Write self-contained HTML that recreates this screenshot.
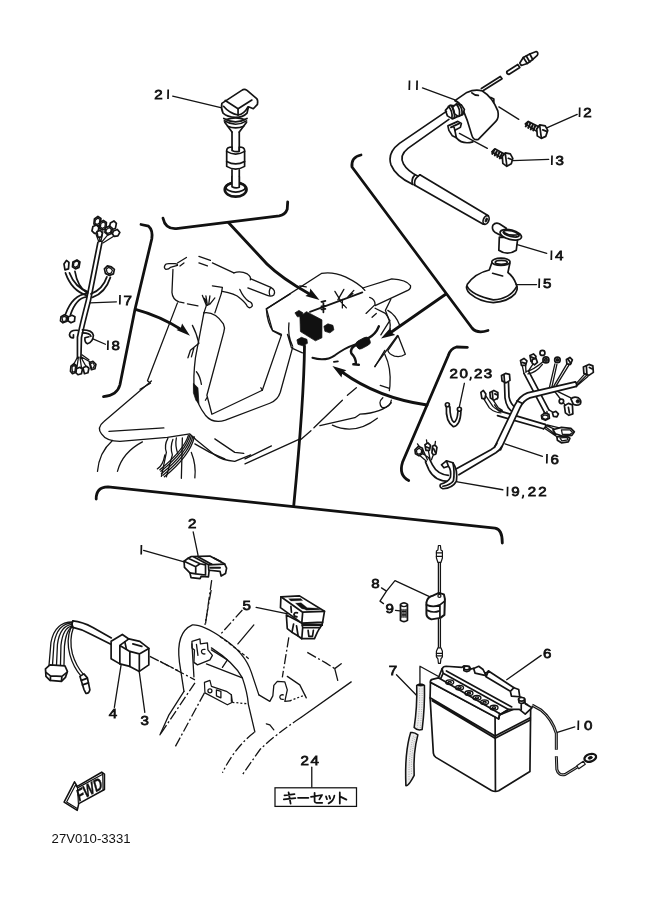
<!DOCTYPE html>
<html><head><meta charset="utf-8">
<style>
html,body{margin:0;padding:0;background:#fff;}
body{width:661px;height:913px;overflow:hidden;font-family:"Liberation Sans",sans-serif;}
svg{display:block;position:absolute;left:0;top:0;}
.l{fill:none;stroke:#141414;stroke-width:calc(6.8px*var(--s,1));stroke-linecap:round;stroke-linejoin:round;}
.t{fill:none;stroke:#141414;stroke-width:calc(5.2px*var(--s,1));stroke-linecap:round;stroke-linejoin:round;}
.b{fill:none;stroke:#111;stroke-width:calc(11.2px*var(--s,1));stroke-linecap:round;stroke-linejoin:round;}
.w{fill:#fff;stroke:#141414;stroke-width:calc(6.8px*var(--s,1));stroke-linecap:round;stroke-linejoin:round;}
.k{fill:#111;stroke:#111;stroke-width:3;stroke-linejoin:round;}
.dd{fill:none;stroke:#141414;stroke-width:calc(5.2px*var(--s,1));stroke-linecap:butt;stroke-dasharray:calc(40px*var(--s,1)) calc(10px*var(--s,1)) calc(8px*var(--s,1)) calc(10px*var(--s,1));}
.n{font-family:"Liberation Sans",sans-serif;font-size:13.4px;fill:#111;stroke:#111;stroke-width:0.75;}
.n1{fill:none;stroke:#111;stroke-width:1.7;stroke-linecap:butt;}
</style></head><body>
<svg width="661" height="913" viewBox="0 0 661 913">
<rect width="661" height="913" fill="#fff"/>
<g opacity="0.999">
<!-- sec_01_p21.py -->
<g transform="translate(140,70) scale(0.24213)" style="--s:1.031">

  <path class="t" d="M135,108 L338,156"/>
  <path class="w" d="M338,138 L420,84 Q431,76 442,84 L482,118 Q488,124 485,142 L468,160 L448,152 L442,178 Q425,196 395,196 Q360,194 343,178 Q334,160 338,138 Z"/>
  <path class="l" d="M352,126 L405,160 L462,124"/>
  <path class="l" d="M405,160 L405,186"/>
  <path class="l" d="M345,150 Q370,180 405,186 Q430,182 446,152"/>
  <path class="l" d="M346,200 Q395,228 442,200"/>
  <path class="l" d="M348,210 Q395,238 440,210"/>
  <path class="l" d="M356,205 Q395,190 432,205"/>
  <path class="l" d="M350,216 L380,256 M440,216 L410,256"/>
  <path class="l" d="M362,232 Q395,246 428,232"/>
  <path class="l" d="M380,256 L380,330 M410,256 L410,336"/>
  <path class="w" d="M358,332 Q358,318 380,318 L380,332 Q395,340 410,336 L410,318 Q432,318 432,332 L432,398 Q395,420 358,398 Z"/>
  <path class="l" d="M358,336 Q395,358 432,336"/>
  <path class="l" d="M358,378 Q395,398 432,378"/>
  <path class="l" d="M380,412 L380,470 M410,412 L410,474"/>
  <ellipse class="w" cx="395" cy="494" rx="45" ry="29" style="stroke-width:11"/>
  <ellipse class="l" cx="395" cy="484" rx="40" ry="20"/>
  <path class="w" d="M380,440 L380,482 Q395,490 410,484 L410,440"/>
  <path class="b" d="M610,545 L608,575 Q600,598 575,602 L150,655 Q105,658 95,612"/>

</g>
<text class="n" transform="translate(154.3,99.0) scale(1.13,1)">2</text>
<path class="n1" d="M168.2,89.4 L168.0,99.0"/>
<!-- sec_02_coil.py -->
<g transform="translate(380,40) scale(0.24963)" style="--s:1.000">

  <!-- leader 11 -->
  <path class="t" d="M170,192 L300,240"/>
  <!-- HT lead -->
  <path class="l" d="M406,194 L482,146 L489,155 L414,202"/>
  <path class="l" d="M508,126 L552,98 L560,110 L516,138 Q506,136 508,126 Z"/>
  <!-- plug cap -->
  <path class="w" d="M560,92 L574,70 L600,56 L626,46 Q636,50 630,62 L612,78 L590,94 L566,102 Z"/>
  <path class="l" d="M574,70 L590,94 M586,64 L600,88 M600,56 L612,78"/>
  <!-- coil body -->
  <path class="w" d="M300,243 L348,210 Q380,196 410,204 Q450,228 472,284 Q478,312 464,326 L394,398 Q374,404 368,382 Q352,322 328,268 Q318,250 300,243 Z"/>
  <path class="l" d="M368,212 Q378,222 394,222"/>
  <path class="l" d="M444,230 L456,236 L456,250"/>
  <!-- connector nuts -->
  <path class="w" d="M262,282 L280,262 L304,264 L318,284 L312,306 L290,316 L270,304 Z"/>
  <path class="w" d="M290,270 L306,256 L326,260 L338,278 L332,298 L314,306 L298,296 Z"/>
  <path class="l" d="M274,266 Q292,284 288,314 M284,262 Q302,280 298,312 M306,258 Q322,274 318,304 M316,258 Q332,274 328,300"/>
  <!-- clamp -->
  <path class="w" d="M272,344 L312,326 L326,334 L322,350 L300,362 L306,392 L290,384 L276,362 Z"/>
  <path class="l" d="M284,350 L318,334 M300,362 L296,346"/>
  <path class="l" d="M306,392 Q330,420 372,408"/>
  <!-- hose -->
  <path class="l" d="M266,286 L78,414 Q28,452 44,500 Q62,545 130,578"/>
  <path class="l" d="M276,318 L112,434 Q76,462 94,496 Q108,522 152,546"/>
  <path class="l" d="M130,578 Q124,556 140,540 M140,582 Q134,560 152,546 L160,540"/>
  <path class="l" d="M160,540 L434,704 M136,580 L414,738"/>
  <ellipse class="l" cx="425" cy="721" rx="11" ry="18" transform="rotate(22 425 721)"/>
  <ellipse class="k" cx="426" cy="721" rx="4" ry="9" transform="rotate(22 426 721)"/>
  <!-- dash leaders to bolts -->
  <path class="t" d="M476,268 L556,318"/>
  <path class="t" d="M318,374 L430,434"/>
  <!-- bolt 12 -->
  <path class="w" d="M582,336 L594,326 L636,348 L628,366 Z"/>
  <path class="l" d="M592,330 L584,346 M602,334 L594,352 M612,340 L604,358 M622,344 L614,362" style="stroke-width:8.5"/>
  <path class="w" d="M628,356 L640,340 L662,344 L672,362 L664,386 L646,394 L630,384 Z"/>
  <path class="l" d="M640,344 L646,390 M652,360 L668,366"/>
  <!-- bolt 13 -->
  <path class="w" d="M448,448 L460,436 L500,458 L492,476 Z"/>
  <path class="l" d="M458,440 L450,456 M468,446 L460,462 M478,450 L470,468 M488,456 L480,474" style="stroke-width:8.5"/>
  <path class="w" d="M490,466 L502,452 L522,456 L532,474 L526,496 L508,506 L492,494 Z"/>
  <path class="l" d="M502,456 L508,502 M514,474 L530,480"/>
  <!-- leaders 12 13 -->
  <path class="t" d="M668,352 L790,298"/>
  <path class="t" d="M532,483 L676,478"/>
  <!-- part 14 -->
  <path class="w" d="M452,742 Q462,730 478,736 L506,754 L490,786 L460,770 Q446,758 452,742 Z"/>
  <path class="w" d="M478,790 L476,842 Q510,866 546,842 L552,792 Z"/>
  <ellipse class="w" cx="524" cy="780" rx="44" ry="19" transform="rotate(14 524 780)"/>
  <ellipse class="l" cx="526" cy="776" rx="32" ry="11" transform="rotate(14 526 776)"/>
  <path class="l" d="M494,770 Q520,788 560,778"/>
  <path class="t" d="M550,820 L668,855"/>

</g>
<path class="n1" d="M409.5,80.4 L409.3,90.0"/>
<path class="n1" d="M417.1,80.4 L416.9,90.0"/>
<path class="n1" d="M579.7,107.4 L579.5,117.0"/>
<text class="n" transform="translate(583.3,117.0) scale(1.13,1)">2</text>
<path class="n1" d="M552.0,155.4 L551.8,165.0"/>
<text class="n" transform="translate(555.6,165.0) scale(1.13,1)">3</text>
<path class="n1" d="M551.5,250.4 L551.3,260.0"/>
<text class="n" transform="translate(555.1,260.0) scale(1.13,1)">4</text>
<!-- sec_03_p15.py -->
<g transform="translate(455,245) scale(0.16642)" style="--s:1.500">

  <path class="w" d="M222,105 L206,150 Q120,170 74,236 Q60,264 90,292 Q150,342 230,346 Q320,340 362,292 Q382,262 368,236 Q352,190 318,165 L330,108 Z"/>
  <ellipse class="w" cx="276" cy="101" rx="55" ry="22"/>
  <ellipse class="l" cx="278" cy="104" rx="36" ry="12"/>
  <path class="l" d="M74,250 Q100,300 230,330 Q330,324 370,250"/>
  <path class="l" d="M226,170 L286,186"/>
  <path class="t" d="M366,238 L490,238"/>

</g>
<g transform="translate(380,228) scale(0.24963)" style="--s:1.000">

  <!-- clip 20,23 -->
  <path class="t" d="M338,622 L318,716"/>
  <path class="l" d="M266,716 Q262,775 294,796 Q322,790 324,736"/>
  <path class="l" d="M280,716 Q280,765 296,778 Q310,772 312,736"/>
  <circle class="w" cx="270" cy="708" r="8"/>
  <circle class="w" cx="318" cy="726" r="8"/>

</g>
<path class="n1" d="M539.3,278.4 L539.1,288.0"/>
<text class="n" transform="translate(542.9,288.0) scale(1.13,1)">5</text>
<text class="n" transform="translate(449.5,378.3) scale(1.13,1)">2</text>
<text class="n" transform="translate(459.4,378.3) scale(1.13,1)">0</text>
<path class="n1" d="M470.8,376.7 L470.8,378.3 L469.9,380.5"/>
<text class="n" transform="translate(473.9,378.3) scale(1.13,1)">2</text>
<text class="n" transform="translate(483.8,378.3) scale(1.13,1)">3</text>
<!-- sec_04_h16.py -->
<g transform="translate(496,300) scale(0.24963)" style="--s:1.000">

  <!-- main trunk right -->
  <path class="t" d="M322,334 L356,296 M324,340 L362,302 M322,346 L368,306"/>
  <path class="w" d="M350,268 L372,258 L388,264 L390,290 L372,302 L352,294 Z"/>
  <path class="l" d="M362,264 L364,296 M374,270 L386,276"/>
  <!-- branch up -->
  <path class="t" d="M214,350 L236,256 M224,348 L244,258"/>
  <path class="t" d="M232,344 L284,256 M242,342 L294,258"/>
  <circle class="w" cx="246" cy="240" r="11"/><circle class="l" cx="246" cy="240" r="4"/>
  <path class="w" d="M282,238 L296,230 L306,240 L298,258 L284,256 Z"/>
  <path class="l" d="M288,236 L300,254"/>
  <!-- cross branch -->
  <path class="l" d="M112,294 L194,450 M130,284 L212,440"/>
  <path class="t" d="M112,294 L104,258 M120,290 L118,246 M130,284 L150,254 M128,296 Q160,292 186,258 M122,286 Q150,280 192,244"/>
  <path class="w" d="M98,242 L112,234 L124,244 L118,262 L102,262 Z"/>
  <path class="w" d="M136,222 L150,216 L160,226 L156,244 L140,246 Z"/>
  <circle class="w" cx="186" cy="212" r="10"/><circle class="w" cx="200" cy="240" r="12"/>
  <circle class="l" cx="200" cy="240" r="5"/>
  <path class="w" d="M146,238 L160,234 L166,250 L154,260 L144,252 Z"/>
  <path class="l" d="M104,250 L118,254 M142,228 L156,234"/>
  <path class="t" d="M194,450 L188,466 M204,446 L206,462 M212,440 L232,452"/>
  <path class="w" d="M182,462 L196,452 L212,458 L214,474 L198,482 L184,476 Z"/>
  <path class="w" d="M226,452 L240,446 L250,456 L244,468 L230,466 Z"/>
  <path class="l" style="stroke-width:5" d="M186,466 L196,460 L208,464 L208,474 L198,478 L188,474 Z"/>
  <!-- branch to right mid -->
  <path class="t" d="M236,368 L262,402 M246,366 L300,392 M240,372 L276,420"/>
  <circle class="w" cx="262" cy="406" r="9"/>
  <path class="w" d="M300,396 Q312,384 330,392 Q344,402 338,416 Q326,426 310,418 Z"/>
  <circle class="k" cx="328" cy="406" r="7"/>
  <path class="w" d="M274,424 L290,414 L306,420 L308,456 L292,462 L278,452 Z"/>
  <path class="l" d="M290,430 L294,452"/>
  <!-- lower trunk -->
  <path class="l" d="M10,443 L196,498 M6,463 L190,516"/>
  <path class="l" d="M196,498 Q206,504 190,516"/>
  <path class="t" d="M200,502 L232,516 M198,508 L240,540 M194,514 L250,552 M204,500 L262,514"/>
  <path class="w" d="M228,520 L262,510 L300,514 L314,528 L304,542 L268,546 L238,536 Z"/>
  <path class="w" d="M244,548 L280,544 L296,554 L290,568 L262,572 L246,562 Z"/>
  <path class="l" style="stroke-width:5" d="M262,520 L296,520 L306,530 L298,538 L266,538 Z"/>
  <path class="l" style="stroke-width:5" d="M256,552 L284,550 L288,560 L264,564 Z"/>
  <!-- left pigtail connector -->
  <path class="w" d="M22,302 L38,294 L54,298 L56,322 L40,332 L24,324 Z"/>
  <path class="l" d="M32,300 L34,326"/>
  <path class="l" d="M34,332 L36,392 Q42,436 72,452 M50,330 L52,388 Q58,420 84,436"/>
  <path class="t" d="M-4,372 L6,380 L4,398 M-6,420 L8,440"/>
  <path d="M-6,590 L76,420 Q94,384 126,372 L318,328 L322,346 L136,392 Q110,402 96,432 L18,600 Z" fill="#fff" stroke="none"/>
  <path class="l" d="M-6,590 L76,420 Q94,384 126,372 L318,328"/>
  <path class="l" d="M18,600 L96,432 Q110,402 136,392 L322,346"/>
  <path class="l" d="M84,404 L104,414"/>
  <path class="l" d="M318,328 Q326,336 322,346"/>
  <!-- leaders -->
  <path class="t" d="M36,576 L186,626"/>

</g>
<g transform="translate(395,330) scale(0.24963)" style="--s:1.000">

  <!-- trunk lower-left -->
  <path class="l" d="M408,455 Q400,470 384,480 L246,556"/>
  <path class="l" d="M428,466 Q420,482 404,492 L256,580"/>
  <!-- end sweep to connectors -->
  <path class="l" d="M214,582 Q170,578 150,540 L136,512"/>
  <path class="l" d="M216,606 Q160,606 136,560 L122,528"/>
  <!-- band -->
  <path class="w" d="M186,540 L206,524 L232,532 Q252,560 246,606 Q230,634 192,636 Q176,630 182,618 Q214,610 222,590 Q226,560 214,546 L196,552 Z"/>
  <path class="l" d="M206,524 L214,546 M232,532 Q240,570 234,604 Q222,622 192,626"/>
  <!-- connectors left end -->
  <path class="t" d="M136,512 L108,494 M130,520 L112,480 M140,514 L132,476 M146,520 L156,494 M126,526 L96,500"/>
  <path class="w" d="M80,480 L94,466 L110,474 L112,494 L96,504 L82,496 Z"/>
  <path class="l" style="stroke-width:5" d="M86,482 L96,474 L106,480 L106,492 L96,498 L88,494 Z"/>
  <path class="w" d="M120,460 L132,452 L142,462 L138,482 L124,482 Z"/>
  <path class="w" d="M150,466 Q160,456 168,470 L164,496 Q154,504 148,492 Z"/>
  <path class="l" d="M124,468 L138,474 M154,474 L162,490"/>
  <path class="t" d="M98,468 L90,456 M128,452 L126,440 M160,460 L162,446"/>
  <!-- pigtails near 20,23 -->
  <path class="t" d="M352,270 L378,312 Q400,332 424,332 M364,264 L392,306 Q408,322 428,324 M394,282 L414,312 L430,322"/>
  <path class="w" d="M344,250 L354,242 L364,256 L360,276 L348,274 Z"/>
  <path class="w" d="M380,250 L396,242 L412,250 L412,272 L396,282 L382,272 Z"/>
  <path class="l" d="M390,250 L392,276 M400,256 L410,260"/>
  <!-- leaders -->
  <path class="t" d="M250,608 L432,640"/>

</g>
<path class="n1" d="M547.0,453.9 L546.8,463.5"/>
<text class="n" transform="translate(550.6,463.5) scale(1.13,1)">6</text>
<path class="n1" d="M507.6,486.7 L507.4,496.3"/>
<text class="n" transform="translate(511.2,496.3) scale(1.13,1)">9</text>
<path class="n1" d="M523.2,494.7 L523.2,496.3 L522.3,498.5"/>
<text class="n" transform="translate(527.7,496.3) scale(1.13,1)">2</text>
<text class="n" transform="translate(538.2,496.3) scale(1.13,1)">2</text>
<!-- sec_05_h17.py -->
<g transform="translate(40,195) scale(0.24963)" style="--s:1.000">

  <!-- trunk -->
  <path class="l" d="M232,190 L186,420 Q160,520 150,570 L150,650"/>
  <path class="l" d="M248,192 L202,424 Q176,524 166,572 L164,650"/>
  <!-- top cluster -->
  <path class="t" d="M236,188 L222,150 M240,186 L236,138 M244,186 L252,146 M248,188 L280,150 M252,192 L300,162"/>
  <path class="w" d="M218,96 L232,86 L244,94 L242,118 L228,124 L216,116 Z"/>
  <path class="w" d="M240,110 L254,102 L266,110 L264,134 L250,140 L238,132 Z"/>
  <path class="w" d="M212,126 L226,120 L236,130 L232,150 L218,154 L208,144 Z"/>
  <path class="w" d="M282,112 L296,104 L306,114 L302,134 L288,138 L278,128 Z"/>
  <path class="w" d="M262,132 L278,124 L290,134 L286,154 L272,160 L260,150 Z"/>
  <path class="w" d="M294,144 L310,138 L320,150 L312,164 L298,166 L290,156 Z"/>
  <path class="w" d="M228,146 L242,142 L250,152 L246,168 L232,170 Z"/>
  <path class="l" style="stroke-width:5" d="M222,100 L232,92 L240,98 L238,112 L228,118 L220,112 Z"/>
  <path class="l" style="stroke-width:5" d="M244,114 L254,108 L262,114 L260,128 L250,134 L242,128 Z"/>
  <path class="l" style="stroke-width:5" d="M266,138 L278,130 L286,138 L282,150 L272,154 L264,148 Z"/>
  <!-- branch upper-left -->
  <path class="l" d="M192,388 Q140,370 118,312 M186,402 Q126,382 102,312"/>
  <path class="l" d="M190,394 Q150,368 140,306"/>
  <path class="w" d="M96,276 L106,262 L116,270 L114,296 L100,300 Z"/>
  <path class="w" d="M132,268 L148,260 L160,268 L156,290 L142,296 L130,288 Z"/>
  <path class="l" style="stroke-width:5" d="M136,270 L148,264 L156,270 L152,284 L142,290 L134,284 Z"/>
  <!-- branch right -->
  <path class="l" d="M204,396 Q250,380 268,328 M210,410 Q262,392 282,330"/>
  <path class="w" d="M258,296 L270,284 L286,288 L298,298 L294,316 L278,322 L262,314 Z"/>
  <path class="l" style="stroke-width:5" d="M266,296 L274,290 L284,294 L290,302 L286,312 L276,316 L268,308 Z"/>
  <!-- branch lower-left -->
  <path class="l" d="M190,394 Q130,400 102,478 M186,408 Q144,414 122,480"/>
  <path class="w" d="M84,488 L98,480 L110,486 L108,506 L92,512 L82,504 Z"/>
  <path class="w" d="M114,488 L128,482 L140,488 L138,506 L124,512 L112,504 Z"/>
  <path class="l" style="stroke-width:5" d="M88,490 L98,486 L106,490 L104,504 L92,508 Z"/>
  <!-- band 18 -->
  <path class="l" d="M150,542 Q120,540 118,560 Q120,574 134,572 L134,560"/>
  <path class="l" d="M170,540 Q210,540 214,562 Q212,590 190,596 Q178,590 180,572 L196,568"/>
  <path class="l" d="M170,552 Q200,552 204,566"/>
  <!-- bottom cluster -->
  <path class="t" d="M150,650 L134,680 M154,650 L148,690 M160,650 L166,690 M164,650 L184,686 M168,650 L206,672 M168,640 L196,660"/>
  <path class="w" d="M124,686 L136,676 L146,684 L144,710 L130,716 L122,706 Z"/>
  <path class="w" d="M146,696 L160,690 L170,698 L166,716 L152,720 L144,712 Z"/>
  <path class="w" d="M172,692 L186,686 L196,694 L192,712 L178,716 Z"/>
  <path class="w" d="M198,672 L212,666 L224,678 L220,696 L206,700 Z"/>
  <path class="l" style="stroke-width:5" d="M128,690 L136,682 L142,688 L140,706 L130,710 Z"/>
  <path class="l" style="stroke-width:5" d="M202,676 L212,672 L218,682 L214,692 L206,694 Z"/>
  <!-- leaders -->
  <path class="t" d="M200,432 L306,428"/>
  <path class="t" d="M212,576 L262,598"/>

</g>
<path class="n1" d="M120.0,294.9 L119.8,304.5"/>
<text class="n" transform="translate(123.6,304.5) scale(1.13,1)">7</text>
<path class="n1" d="M108.0,340.4 L107.8,350.0"/>
<text class="n" transform="translate(111.6,350.0) scale(1.13,1)">8</text>
<!-- sec_06_scooter.py -->
<g transform="translate(140,228) scale(0.24963)" style="--s:1.000">

  <!-- left lever -->
  <path class="t" d="M100,150 Q94,160 104,166 Q116,166 122,158 L150,150 Q152,144 140,143 L116,143 Q102,143 100,150 Z"/>
  <path class="t" d="M150,140 L186,118 M160,152 L176,140"/>
  <!-- handlebar cover -->
  <path class="t" d="M132,166 L128,258 Q130,286 156,296 L176,300 M190,304 L232,312"/>
  <path class="t" d="M236,114 L282,130 M236,140 L270,152 M290,140 L376,180"/>
  <!-- right grip and lever -->
  <path class="t" d="M376,180 Q402,170 430,184 Q446,194 442,208"/>
  <path class="t" d="M444,204 L524,238 Q546,250 536,268 Q526,276 510,270 L432,240"/>
  <path class="t" d="M524,238 Q514,252 520,270"/>
  <path class="t" d="M290,232 L330,238 L326,262 M330,254 Q380,262 402,282 Q424,300 430,314 Q440,326 450,312 Q450,298 436,294 Q414,278 400,246"/>
  <!-- wire fan -->
  <path class="t" d="M266,310 L250,270 M270,310 L264,272 M275,308 L280,272 M280,305 L300,280 M268,300 L258,282"/>
  <path class="t" d="M266,310 L256,340 M326,262 L300,340"/>
  <!-- leg shield -->
  <path class="t" d="M256,340 L222,520 Q212,600 218,650 Q228,706 262,750 Q292,786 342,770 L520,702 Q552,690 562,658 L612,476"/>
  <path class="t" d="M256,340 Q300,334 334,384 Q342,400 336,416 L268,670 L288,746 L490,650 L566,430"/>
  <path class="t" d="M268,680 L262,690 M490,650 L484,640"/>
  <path class="t" d="M506,324 L602,264 M506,324 Q510,380 532,412 L566,430 M640,232 L666,236"/>
  <!-- front cover left edge -->
  <path class="t" d="M150,300 L30,612 M30,612 L42,622 L0,646"/>
  <!-- wires left of column -->
  <path class="t" d="M210,390 Q226,420 236,462 M236,462 L202,490 L192,520 M216,480 L206,516"/>
  <path class="t" d="M226,576 Q240,592 246,626"/>
  <path class="k" d="M214,622 L232,640 L236,704 L224,690 L214,660 Z"/>
  <!-- lower lines -->

</g>
<g transform="translate(260,228) scale(0.24963)" style="--s:1.000">

  <!-- body top -->
  <path class="t" d="M26,324 L246,182 Q292,174 342,196 Q400,224 420,250"/>
  <path class="t" d="M26,324 L50,410 L86,426 M116,380 Q110,430 130,472 M110,426 L126,480 M130,482 L170,500"/>
  <path class="t" d="M492,680 Q470,700 490,720 Q520,722 526,690"/>
  <path class="t" d="M526,700 Q490,740 400,746 L380,760 L240,792 M290,790 Q380,832 470,762"/>
  <path class="t" d="M460,556 L500,490 M350,670 L386,640 M330,690 L216,800 M204,812 L160,850"/>
  <!-- black boxes -->
  <path class="k" d="M160,355 L186,335 L248,368 L248,440 L222,452 L162,415 Z"/>
  <path class="k" d="M140,340 L156,330 L172,340 L168,354 L150,356 Z"/>
  <path class="k" d="M256,394 L272,384 L292,390 L296,408 L280,420 L260,414 Z"/>
  <path class="k" d="M148,448 L166,438 L188,446 L190,462 L172,472 L152,466 Z"/>
  <!-- screw -->
  <path class="l" d="M246,296 L262,292 M254,294 L254,338 M246,314 L262,312 M246,326 L262,324" style="stroke-width:7"/>
  <!-- wire w/ fan -->
  <path class="l" d="M200,336 L410,258" style="stroke-width:7"/>
  <path class="t" d="M312,288 L336,246 M322,290 L300,254 M352,276 L376,250 M322,294 L346,320 M330,286 L330,320 M360,272 L372,262"/>
  <!-- connector blob -->
  <rect class="k" x="384" y="444" width="58" height="34" rx="14" transform="rotate(-28 413 461)"/>
  <path class="l" d="M430,444 Q464,426 476,394" style="stroke-width:10"/>
  <path class="l" d="M388,466 Q358,482 366,502 Q386,522 384,546 M374,546 L396,548" style="stroke-width:10"/>
  <path class="l" d="M210,520 Q262,536 300,510 Q340,480 382,466" style="stroke-width:8"/>
  <path class="l" d="M296,536 L312,534" style="stroke-width:7"/>
  <path class="t" d="M178,470 L176,520"/>

</g>
<g transform="translate(85,380) scale(0.24963)" style="--s:1.000">

  <path class="t" d="M266,4 L76,166 Q46,190 66,216 Q86,246 140,246 L330,230 L420,216 L446,240 L520,300 Q550,322 600,326 L664,300"/>
  <path class="t" d="M96,206 L316,192 M440,256 L500,290 L560,316 M520,236 L600,290 L636,294"/>
  <path class="t" d="M50,366 Q56,290 110,242 M130,366 Q150,290 230,248 M290,356 Q312,344 320,300 M440,392 Q446,340 426,290"/>
  <path class="t" d="M332,234 Q316,262 326,290 L306,386 M352,238 Q340,268 350,300 L326,388 M366,232 Q360,262 372,296"/>
  <path class="t" d="M390,232 L386,394"/>
  <path class="t" d="M426,224 Q410,290 306,376 M432,226 Q416,296 312,382 M438,228 Q422,302 318,388 M420,222 Q404,284 304,366 M414,222 Q398,278 300,360"/>

</g>
<g transform="translate(245,400) scale(0.24963)" style="--s:1.000">

  <path class="t" d="M0,236 L106,184 M0,256 L216,158"/>

</g>
<g transform="translate(340,265) scale(0.15129)" style="--s:1.650">

  <path class="t" d="M150,152 L342,92 Q440,98 466,136 Q470,156 448,168 L232,268"/>
  <path class="t" d="M196,214 Q232,226 232,262 L172,320 M240,320 L212,346"/>
  <path class="t" d="M336,226 L300,300 L326,366"/>
  <path class="t" d="M232,286 L300,320 Q340,370 330,420 M316,300 Q370,330 396,402"/>
  <path class="t" d="M330,366 L270,462"/>
  <path class="t" d="M384,468 L432,590 Q400,612 360,602 Q325,590 316,566 Z"/>
  <path class="t" d="M380,466 L230,670"/>
  <path class="t" d="M296,590 Q340,680 330,800 L326,830 M266,796 L326,816"/>

</g>
<!-- sec_07_brackets.py -->

<!-- line from bracket 21 to scooter -->
<path fill="none" stroke="#111" stroke-width="2.8" stroke-linecap="round" stroke-linejoin="round" d="M228.4,222.5 L260,256.5 Q272,271 296,286 L312,295.5"/>
<path d="M319.5,300.0 L305.4,295.9 L309.5,293.3 L310.3,288.6 Z" fill="#111"/>
<!-- bracket 1 upper right -->
<path fill="none" stroke="#111" stroke-width="2.8" stroke-linecap="round" stroke-linejoin="round" d="M361,155 Q351,157 352,167 L472,328 Q477,334 488,330.5"/>
<path fill="none" stroke="#111" stroke-width="2.8" stroke-linecap="round" stroke-linejoin="round" d="M446,294 Q420,312 390,333"/>
<path d="M381.0,338.5 L390.6,327.4 L391.2,332.2 L395.2,334.9 Z" fill="#111"/>
<!-- bracket 2 -->
<path fill="none" stroke="#111" stroke-width="2.8" stroke-linecap="round" stroke-linejoin="round" d="M467.4,347.3 L456.5,347 Q450.5,348.5 448.3,355.5 L402.5,462.3 Q398.5,475 408.7,480.5"/>
<path fill="none" stroke="#111" stroke-width="2.8" stroke-linecap="round" stroke-linejoin="round" d="M427,405 Q378,398 342,372"/>
<path d="M332.4,366.0 L346.4,370.3 L342.3,372.8 L341.5,377.5 Z" fill="#111"/>
<!-- bracket 3 -->
<path fill="none" stroke="#111" stroke-width="2.8" stroke-linecap="round" stroke-linejoin="round" d="M141,224.5 L148.6,226.2 Q153,230 151.8,238.7 L134.9,309.8 L119.9,385 Q117,395.5 103.5,396.6"/>
<path fill="none" stroke="#111" stroke-width="2.8" stroke-linecap="round" stroke-linejoin="round" d="M135.4,309.4 Q160,316 182,330"/>
<path d="M190.0,335.8 L176.5,330.1 L180.8,328.1 L182.1,323.4 Z" fill="#111"/>
<!-- vertical to bottom bracket -->
<path fill="none" stroke="#111" stroke-width="2.8" stroke-linecap="round" stroke-linejoin="round" d="M304.5,346 Q304,400 293.7,506"/>
<!-- bottom bracket -->
<path fill="none" stroke="#111" stroke-width="2.8" stroke-linecap="round" stroke-linejoin="round" d="M96.2,499 Q96,487 108,486.8 L495,528.2 Q502.5,529.5 502.3,543"/>
<!-- sec_08_bottomleft.py -->
<g transform="translate(130,510) scale(0.18155)" style="--s:1.375">

  <path class="w" d="M298,282 L320,266 L338,256 L440,254 L520,296 L532,320 L526,350 L502,364 L496,338 L436,332 L432,368 L392,366 L386,378 L336,372 L330,346 L300,316 Z"/>
  <path class="l" d="M298,282 L362,312 L362,352 L330,346 M320,266 L386,296 L362,312 M386,296 L416,302 L416,358 L362,352"/>
  <path class="l" d="M350,258 L432,302 L434,332 M432,302 L522,298 M372,256 L452,300 M462,264 L500,284"/>
  <path class="l" d="M442,318 L496,318" style="stroke-width:10"/>
  <path class="t" d="M348,120 L375,250"/>
  <path class="t" d="M75,222 L298,286"/>
  <path class="dd" d="M450,386 L414,640"/>

</g>
<text class="n" transform="translate(188.0,527.5) scale(1.13,1)">2</text>
<path class="n1" d="M141.4,544.9 L141.2,554.5"/>
<g transform="translate(20,590) scale(0.24963)" style="--s:1.000">

  <!-- cable sheath -->
  <path class="l" d="M366,192 L292,150 Q250,128 212,124 M366,218 L282,176 Q250,158 212,150"/>
  <path class="l" d="M212,124 Q204,136 212,150"/>
  <!-- wires to connector -->
  <path class="t" d="M210,128 Q140,128 124,210 L116,304 M210,132 Q150,134 136,214 L130,304 M210,138 Q160,142 150,218 L146,306 M210,144 Q172,150 164,222 L162,306 M210,148 Q184,160 178,226 L176,308"/>
  <path class="w" d="M102,316 L120,300 L180,304 L190,326 L182,350 L166,366 L120,362 L104,346 Z"/>
  <path class="l" d="M104,330 L122,344 L168,346 L188,330 M122,344 L122,362 M168,346 L166,364"/>
  <!-- single wire + bullet -->
  <path class="t" d="M204,150 Q184,200 200,260 Q214,310 244,344 M214,150 Q196,200 210,256 Q224,304 254,338"/>
  <path class="w" d="M240,346 L256,336 L270,352 L280,400 Q276,416 264,414 L256,398 Z"/>
  <path class="l" d="M246,362 L268,354 M250,380 L274,372"/>
  <!-- holder 4 + unit 3 -->
  <path class="w" d="M365,205 L410,178 L436,196 L480,206 L516,234 L516,300 L478,326 L440,306 L400,296 L365,275 Z"/>
  <path class="l" d="M400,222 L436,196 M400,222 L400,296 M400,222 L440,246 L478,256 L516,234 M440,246 L440,306 M478,256 L478,326"/>
  <path class="l" d="M420,208 L426,236 M452,216 L488,226"/>
  <!-- leaders -->
  <path class="t" d="M405,300 L378,470 M478,330 L500,490"/>
  <path class="dd" d="M520,266 L640,326"/>

</g>
<text class="n" transform="translate(108.7,718.3) scale(1.13,1)">4</text>
<text class="n" transform="translate(140.5,724.6) scale(1.13,1)">3</text>
<g transform="translate(160,590) scale(0.24963)" style="--s:1.000">

  <path class="t" d="M96,406 L78,290 Q62,170 130,140 Q170,138 250,192 Q340,250 366,330 L396,420"/>
  <path class="t" d="M136,348 L128,216 M206,232 Q296,290 330,352 Q350,410 354,458 L380,568"/>
  <path class="dd" d="M205,0 L180,140"/>
  <path class="dd" d="M330,80 L240,180"/>
  <path class="t" d="M376,140 L312,216"/>
  <path class="dd" d="M240,186 Q300,230 356,276" style="stroke-dasharray:14 8"/>
  <!-- upper bracket -->
  <path class="t" d="M128,206 L160,196 L162,216 L190,212 L192,240 L210,262 L200,280 L150,300 L136,290 L138,240 L128,232 Z"/>
  <path class="t" d="M180,238 Q166,236 166,248 Q168,258 180,256"/>
  <path class="t" d="M146,218 L152,262 M206,240 L270,280 L250,310 M186,296 L330,352"/>
  <!-- lower bracket -->
  <path class="w" d="M178,370 L200,362 L206,386 L266,406 L286,420 L290,450 L270,460 L180,412 Z" style="stroke-width:4.8"/>
  <circle class="t" cx="200" cy="404" r="8"/>
  <path class="t" d="M226,400 L244,406 L244,432 L226,424 Z M286,420 L286,446"/>
  <path class="dd" d="M0,286 L140,360"/>
  <path class="dd" d="M178,412 L60,630"/>
  <path class="dd" d="M140,372 L0,580"/>
  <path class="t" d="M96,406 L36,500 L0,580"/>
  <path class="dd" d="M290,450 L352,456" style="stroke-dasharray:8 8"/>
  <!-- right bracket -->
  <path class="t" d="M396,420 L440,446 L452,424 L456,382 L470,366 L500,368 L510,400 L500,446 L520,444"/>
  <path class="dd" d="M520,444 L582,420" style="stroke-dasharray:8 8"/>
  <path class="t" d="M494,420 Q480,418 480,430 Q482,440 494,438"/>
  <path class="t" d="M510,346 L560,380 L586,432"/>
  <path class="dd" d="M516,190 L490,350"/>
  <path class="t" d="M426,536 L440,540 L456,560"/>
  <path class="dd" d="M378,570 Q300,630 250,732"/>
  <path class="t" d="M766,368 L566,510"/>
  <path class="dd" d="M566,510 Q460,580 400,640 L326,746"/>
  <path class="dd" d="M590,250 L664,292 L700,315"/>
  <path class="t" d="M700,315 L726,295 M700,315 L712,362"/>
  <path class="t" d="M608,710 L608,790"/>
  <path class="t" d="M385,70 L512,96"/>

</g>
<text class="n" transform="translate(242.5,609.5) scale(1.13,1)">5</text>
<text class="n" transform="translate(300.5,765.3) scale(1.13,1)">2</text>
<text class="n" transform="translate(310.4,765.3) scale(1.13,1)">4</text>
<g transform="translate(280,585) scale(0.09074)" style="--s:2.751">

  <path class="w" d="M70,330 L80,480 L130,520 L200,562 L240,592 L380,592 L412,520 L440,470 L462,440 L470,410 L240,420 Z"/>
  <path class="l" d="M132,520 L150,430 M182,450 L200,562 M244,440 L250,470 L240,592 M250,470 L440,470"/>
  <path class="l" d="M250,440 L462,440" style="stroke-width:26"/>
  <path class="l" d="M310,500 L318,566 L358,566 L368,500"/>
  <path class="w" d="M10,130 L215,120 L490,290 L470,410 L240,420 L5,250 Z"/>
  <path class="l" d="M10,130 L250,300 L490,290 M250,300 L240,420"/>
  <path class="k" d="M95,152 L230,150 L250,172 L120,176 Z"/>
  <path class="k" d="M170,200 L232,196 L300,250 L420,256 L442,274 L290,278 L270,268 L240,262 Z"/>
  <path class="l" d="M120,236 L126,300"/>
  <path class="l" d="M192,306 Q160,296 154,326 Q158,352 186,350" style="stroke-width:20"/>

</g>
<!-- sec_09_bottomright.py -->
<g transform="translate(380,530) scale(0.24963)" style="--s:1.000">

  <!-- wire & terminals -->
  <path class="t" d="M234,130 L234,256 M242,130 L242,256 M234,356 L234,472 M242,356 L242,472"/>
  <path class="w" d="M234,62 L242,62 L244,80 L250,84 L250,112 L244,130 L232,130 L226,112 L226,84 L232,80 Z" style="stroke-width:4.8"/>
  <path class="t" d="M226,92 L250,92 M226,106 L250,106"/>
  <path class="w" d="M232,472 L244,472 L250,486 L250,508 L244,516 L242,534 L234,534 L232,516 L226,508 L226,486 Z" style="stroke-width:4.8"/>
  <path class="t" d="M226,494 L250,494 M226,504 L250,504"/>
  <!-- holder body -->
  <path class="w" d="M186,290 Q190,266 214,262 L236,252 L256,258 L260,276 L258,340 L242,352 L206,358 Q186,350 186,336 Z" style="stroke-width:8"/>
  <path class="l" d="M186,300 Q214,312 240,300 L240,350 M240,300 L258,286 M190,322 Q214,334 238,324"/>
  <circle class="t" cx="238" cy="264" r="6"/>
  <!-- bracket lines for 8 -->
  <path class="t" d="M6,232 L26,245 L60,203 L196,266 M26,245 L0,285 L14,295"/>
  <!-- fuse 9 -->
  <path class="w" d="M82,298 Q96,286 110,298 L110,362 Q96,372 82,362 Z"/>
  <path class="t" d="M82,302 Q96,312 110,302 M88,326 L104,326 M88,340 L104,340 M96,318 L96,350 M88,318 L88,350 M104,318 L104,350"/>
  <path class="t" d="M62,322 L80,324"/>
  <!-- 7 leader and hoses -->
  <path class="t" d="M66,580 L146,662"/>
  <path class="t" d="M160,546 L160,620 M160,546 L240,590"/>

</g>
<text class="n" transform="translate(371.2,587.5) scale(1.13,1)">8</text>
<text class="n" transform="translate(385.5,613.0) scale(1.13,1)">9</text>
<text class="n" transform="translate(388.7,674.5) scale(1.13,1)">7</text>
<g transform="translate(380,670) scale(0.14235)" style="--s:1.754">

  <path d="M258,108 Q262,260 240,404 Q262,428 296,418 Q316,260 312,108 Q286,92 258,108 Z" fill="#ececec" stroke="#141414" stroke-width="11"/>
  <ellipse class="k" cx="285" cy="106" rx="24" ry="8"/>
  <path d="M278,130 Q282,260 262,404 M296,130 Q298,260 282,414" fill="none" stroke="#999" stroke-width="7" stroke-dasharray="6 10"/>
  <path d="M215,440 Q172,580 182,812 Q200,818 240,740 Q232,580 266,456 Q240,434 215,440 Z" fill="#ececec" stroke="#141414" stroke-width="11"/>
  <path d="M236,462 Q200,590 204,770 M248,470 Q214,600 222,740" fill="none" stroke="#999" stroke-width="7" stroke-dasharray="6 10"/>

</g>
<g transform="translate(425,655) scale(0.18155)" style="--s:1.375">

  <!-- body -->
  <path class="w" d="M30,150 L28,236 L46,540 Q48,556 60,564 L366,746 Q386,756 406,748 L578,642 L582,296 L560,270 L386,340 Z"/>
  <!-- lid top outline -->
  <path class="w" d="M30,150 Q28,138 40,134 L74,126 L94,76 Q100,62 116,62 L204,68 L214,60 L244,62 L250,78 L268,74 L296,62 L320,80 L332,104 L350,88 L490,180 L516,190 L522,230 L548,240 L552,268 L590,290 L552,326 L520,300 L460,300 L410,330 L406,352 L386,342 Z"/>
  <!-- lid rim lines -->
  <path class="l" d="M28,236 L386,446 L580,346 M40,252 L386,458 L580,358"/>
  <path class="l" d="M386,342 L388,746"/>
  <!-- channels -->
  <path class="l" d="M74,126 L86,132 L410,322 M100,100 L460,300 M118,88 L478,286 M94,76 L100,100 L86,132"/>
  <path class="l" d="M332,104 L336,120 L470,200 L490,180 M350,88 L336,120 M470,200 L476,226 L520,230"/>
  <path class="l" d="M268,74 L276,100 L330,112"/>
  <path class="l" d="M410,330 L450,306 M406,352 L412,322"/>
  <!-- vent caps -->
  <g class="l" style="stroke-width:7.5">
  <ellipse cx="136" cy="150" rx="22" ry="13"/><ellipse cx="136" cy="150" rx="9" ry="5"/>
  <ellipse cx="190" cy="180" rx="22" ry="13"/><ellipse cx="190" cy="180" rx="9" ry="5"/>
  <ellipse cx="242" cy="210" rx="22" ry="13"/><ellipse cx="242" cy="210" rx="9" ry="5"/>
  <ellipse cx="286" cy="236" rx="22" ry="13"/><ellipse cx="286" cy="236" rx="9" ry="5"/>
  <ellipse cx="328" cy="260" rx="22" ry="13"/><ellipse cx="328" cy="260" rx="9" ry="5"/>
  <ellipse cx="380" cy="290" rx="22" ry="13"/><ellipse cx="380" cy="290" rx="9" ry="5"/>
  </g>
  <!-- terminals -->
  <ellipse class="w" cx="230" cy="72" rx="16" ry="10"/>
  <path class="l" d="M214,72 L214,86 Q230,96 246,86 L246,72"/>
  <ellipse class="w" cx="532" cy="244" rx="17" ry="10"/>
  <path class="l" d="M516,246 L518,262 Q532,272 548,262 L548,246 M530,270 L530,300"/>
  <!-- leader 6 -->
  <path class="t" d="M450,136 L640,2" />

</g>
<text class="n" transform="translate(543.0,657.5) scale(1.13,1)">6</text>
<g transform="translate(440,620) scale(0.24963)" style="--s:1.000">

  <path d="M369,341 L405,361 Q449,397 466,454 L466,520 M466,546 L468,598 Q475,626 501,619 L550,589" fill="none" stroke="#141414" stroke-width="12" stroke-linejoin="round"/>
  <path d="M369,341 L405,361 Q449,397 466,454 L466,518 M466,548 L468,598 Q475,626 501,619 L550,589" fill="none" stroke="#fff" stroke-width="2.6" stroke-linejoin="round"/>
  <path class="w" d="M548,584 L574,566 L582,578 L556,596 Z" style="stroke-width:4.8"/>
  <ellipse class="w" cx="602" cy="552" rx="24" ry="15" transform="rotate(-18 602 552)" style="stroke-width:9"/>
  <ellipse class="k" cx="602" cy="552" rx="9" ry="5" transform="rotate(-18 602 552)"/>
  <path class="t" d="M470,450 L540,428"/>

</g>
<path class="n1" d="M578.4,720.4 L578.2,730.0"/>
<text class="n" transform="translate(584.0,730.0) scale(1.13,1)">0</text>
<!-- sec_10_misc.py -->
<g transform="translate(55,765) scale(0.09074)" style="--s:2.751">

  <path d="M100,410 L215,185 L245,235 L515,80 L545,100 L545,270 L262,425 L245,500 Z" fill="#fff" stroke="#111" stroke-width="17" stroke-linejoin="round"/>
  <path d="M128,408 L226,220 L248,252 L526,102 L515,80 M526,102 L530,280 M248,252 L258,428 M128,408 L240,478" fill="none" stroke="#111" stroke-width="13" stroke-linejoin="round" stroke-linecap="round"/>
  <text x="0" y="0" transform="translate(262,408) rotate(-29.5) skewX(-14) scale(0.75,1)" style="font-family:'Liberation Sans',sans-serif;font-weight:bold;font-size:182px;fill:#111;stroke:#111;stroke-width:4">FWD</text>

</g>

<rect x="275" y="787.8" width="81.5" height="18.6" fill="#fff" stroke="#111" stroke-width="1.25"/>
<g fill="none" stroke="#111" stroke-width="1.75" stroke-linecap="round" stroke-linejoin="round">
 <!-- キ -->
 <path d="M284.5,795.3 L294.5,794.2 M283.8,799.4 L295.4,798.2 M288.6,792.4 L290.6,803.6"/>
 <!-- ー -->
 <path d="M298,797.8 L308.4,797.8"/>
 <!-- セ -->
 <path d="M311,796.8 L322,795 L319.4,799.4 M314.6,792.8 L314.6,801.4 Q314.8,802.8 316.6,802.8 L322.2,802.8"/>
 <!-- ッ -->
 <path d="M326,796.4 L327,799.2 M329.2,795.8 L330.2,798.6 M334.4,795.6 Q333.6,801 328.6,803.4"/>
 <!-- ト -->
 <path d="M339.8,792.4 L339.8,803.6 M339.8,796.4 L346.4,799.6"/>
</g>
<text x="51.6" y="843.1" style="font-family:'Liberation Sans',sans-serif;font-size:13.15px;fill:#111;">27V010-3331</text>
</g>
</svg>
</body></html>
